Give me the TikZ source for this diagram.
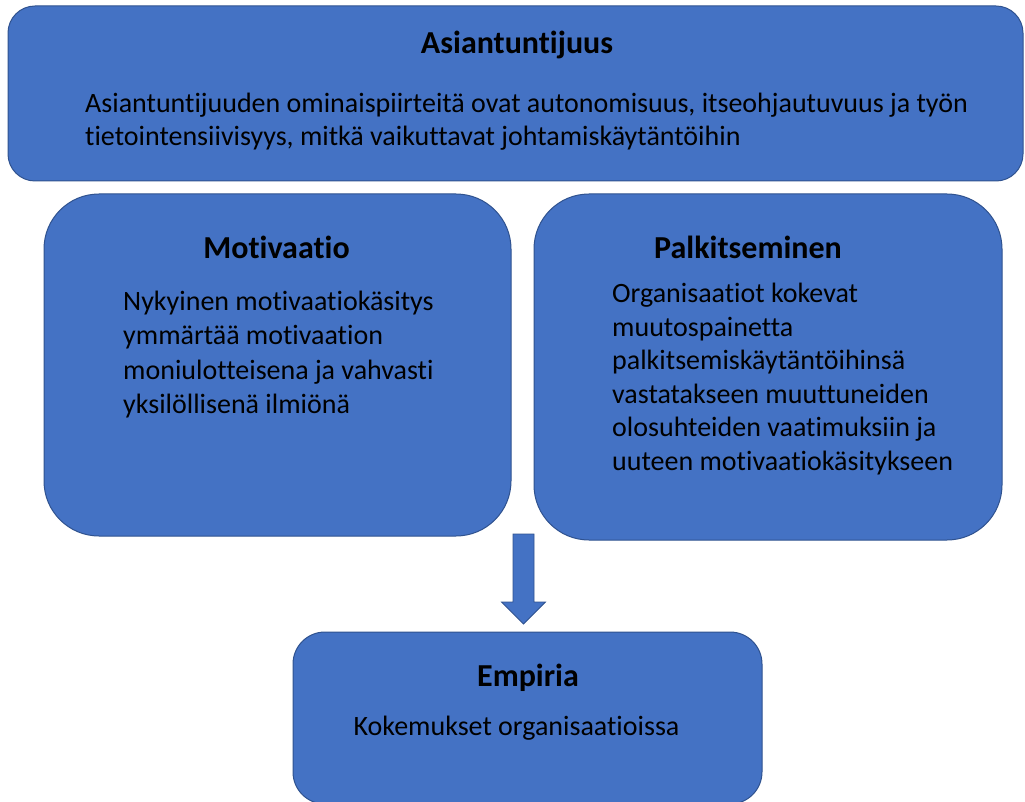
\documentclass[tikz,border=0pt]{standalone}
\usepackage{fontspec}
\setmainfont{Carlito}[Ligatures=NoCommon]
\begin{document}
\begin{tikzpicture}[x=1pt,y=-1pt,
  box/.style={draw=boxline,fill=boxfill,line width=1pt,rectangle,inner sep=0pt},
  heading/.style={font=\fontsize{32}{36}\selectfont\bfseries,text=black,inner sep=0pt},
  bodytext/.style={font=\fontsize{28}{34.5}\selectfont,text=black,align=left,inner sep=0pt},
  blockarrow/.style={draw=boxline,fill=boxfill,line width=0.8pt,line join=miter}]
\definecolor{boxfill}{HTML}{4472C4}
\definecolor{boxline}{HTML}{2F528F}
\useasboundingbox (0,0) rectangle (1025,802);

% top banner
\node[box,rounded corners=27pt,minimum width=1015pt,minimum height=175pt] (top) at (515.5,93.5) {};
\node[heading] (topt) at (517,45) {Asiantuntijuus};
\node[bodytext,anchor=west,font=\fontsize{28}{33}\selectfont] (topb) at (85,121.5) {Asiantuntijuuden ominaispiirteitä ovat autonomisuus, itseohjautuvuus ja työn\\tietointensiivisyys, mitkä vaikuttavat johtamiskäytäntöihin};

% two middle boxes
\node[box,rounded corners=55pt,minimum width=467pt,minimum height=342pt] (mot) at (277.5,365) {};
\node[heading] (mott) at (276.5,247) {Motivaatio};
\node[bodytext,anchor=west] (motb) at (123,354.5) {Nykyinen motivaatiokäsitys\\ymmärtää motivaation\\moniulotteisena ja vahvasti\\yksilöllisenä ilmiönä};

\node[box,rounded corners=55pt,minimum width=468pt,minimum height=346pt] (pal) at (768,367) {};
\node[heading] (palt) at (748,247) {Palkitseminen};
\node[bodytext,anchor=west,font=\fontsize{28}{33.6}\selectfont] (palb) at (612,379) {Organisaatiot kokevat\\muutospainetta\\palkitsemiskäytäntöihinsä\\vastatakseen muuttuneiden\\olosuhteiden vaatimuksiin ja\\uuteen motivaatiokäsitykseen};

% bottom box
\node[box,rounded corners=32pt,minimum width=469pt,minimum height=172pt] (emp) at (527.5,718) {};
\node[heading] (empt) at (528,678) {Empiria};
\node[bodytext] (empb) at (516.5,728) {Kokemukset organisaatioissa};

% block arrow down to the bottom box
\coordinate (atop) at (523.5,534);
\coordinate (atip) at (523.5,624);
\draw[blockarrow] (atop) ++(-10.5,0) -- ++(0,68) -- ++(-11.5,0) -- (atip)
  -- ++(22,-22) -- ++(-11.5,0) -- ++(0,-68) -- cycle;
\end{tikzpicture}
\end{document}
